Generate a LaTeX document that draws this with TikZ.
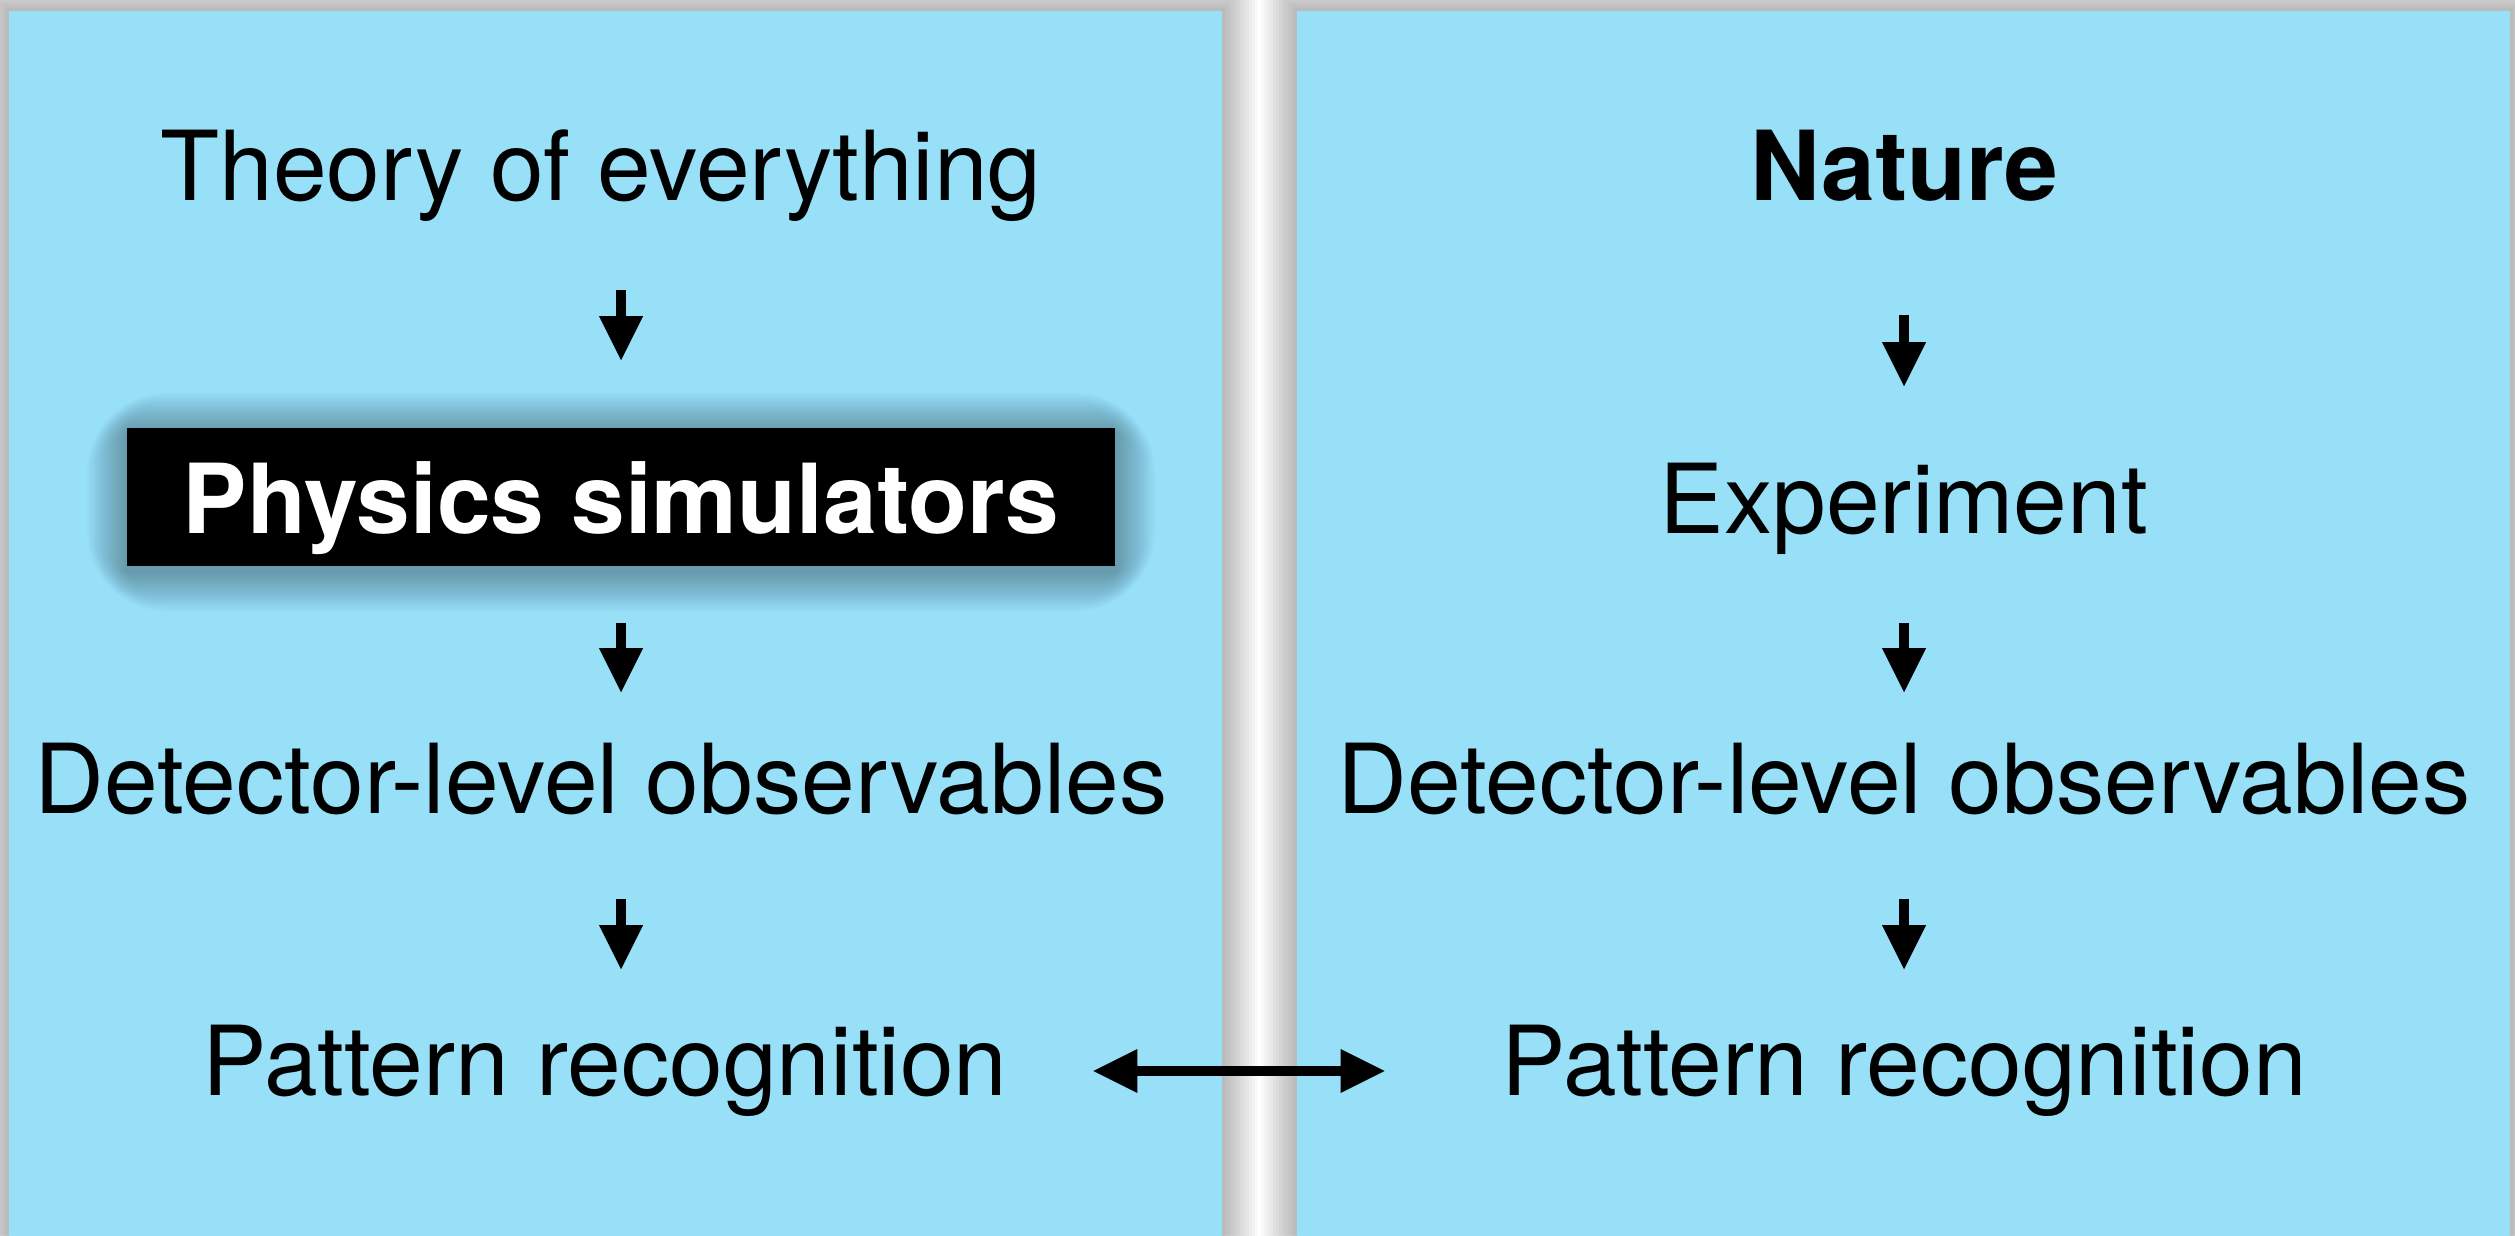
\documentclass[tikz,border=0pt]{standalone}
\usepackage{fontspec}
\setmainfont{TeX Gyre Heros}
\usetikzlibrary{arrows.meta}
\definecolor{panelblue}{RGB}{152,223,248}
\begin{document}
\begin{tikzpicture}[x=0.01cm,y=-0.01cm,
  bigfont/.style={font=\fontsize{27.46pt}{33pt}\selectfont},
  txt/.style={bigfont, inner sep=0pt, text height=0.72cm, text depth=0.24cm, anchor=base},
  simbox/.style={bigfont, fill=black, text=white, inner sep=0pt,
    minimum width=9.88cm, minimum height=1.38cm, text height=0.96cm, text depth=0.24cm},
  arr/.style={line width=0.1cm, -{Triangle[length=0.44cm,width=0.44cm,line width=0pt]}},
  dblarr/.style={line width=0.1cm, {Triangle[length=0.44cm,width=0.44cm,line width=0pt]}-{Triangle[length=0.44cm,width=0.44cm,line width=0pt]}},
  shade/.style={black, opacity=0.022},
  boxshade/.style={black, opacity=0.017}]
\useasboundingbox (0,0) rectangle (2515,1235);
\clip (0,0) rectangle (2515,1235);
\fill[white] (0,0) rectangle (2515,1235);
% panel shadows
\foreach \i in {1,...,12}{
  \fill[shade] (9-3*\i,11-3*\i) rectangle (1222+3*\i,1260);
  \fill[shade] (1297-3*\i,11-3*\i) rectangle (2510+3*\i,1260);
}
% panels
\fill[panelblue] (9,11) rectangle (1222,1260);
\fill[panelblue] (1297,11) rectangle (2510,1260);
% soft shadow of the black box
\foreach \i in {1,...,20}{
  \fill[boxshade, rounded corners=0.4*\i mm] (127-2*\i,433-2*\i) rectangle (1115+2*\i,571+2*\i);
}
% left column
\node[txt] (theory) at (601,200) {Theory of everything};
\node[simbox] (physics) at (621,497) {\bfseries Physics simulators};
\node[txt] (detL) at (601,813) {Detector-level observables};
\node[txt] (patL) at (605,1095) {Pattern recognition};
% right column
\node[txt] (nature) at (1904,200) {\bfseries Nature};
\node[txt] (exp) at (1904,533) {Experiment};
\node[txt] (detR) at (1904,813) {Detector-level observables};
\node[txt] (patR) at (1904,1095) {Pattern recognition};
% left arrows
\draw[arr, shorten <=0.65cm, shorten >=0.67cm] (theory.south -| physics.north) -- (physics.north);
\draw[arr, shorten <=0.56cm, shorten >=0.48cm] (physics.south) -- (detL.north -| physics.south);
\draw[arr, shorten <=0.61cm, shorten >=0.53cm] (detL.south -| physics.south) -- (patL.north -| physics.south);
% right arrows
\draw[arr, shorten <=0.90cm, shorten >=0.74cm] (nature.south) -- (exp.north);
\draw[arr, shorten <=0.65cm, shorten >=0.48cm] (exp.south) -- (detR.north);
\draw[arr, shorten <=0.61cm, shorten >=0.53cm] (detR.south) -- (patR.north);
% double arrow
\draw[dblarr, shorten <=0.85cm, shorten >=1.16cm] (patL.east) -- (patR.west);
\end{tikzpicture}
\end{document}
